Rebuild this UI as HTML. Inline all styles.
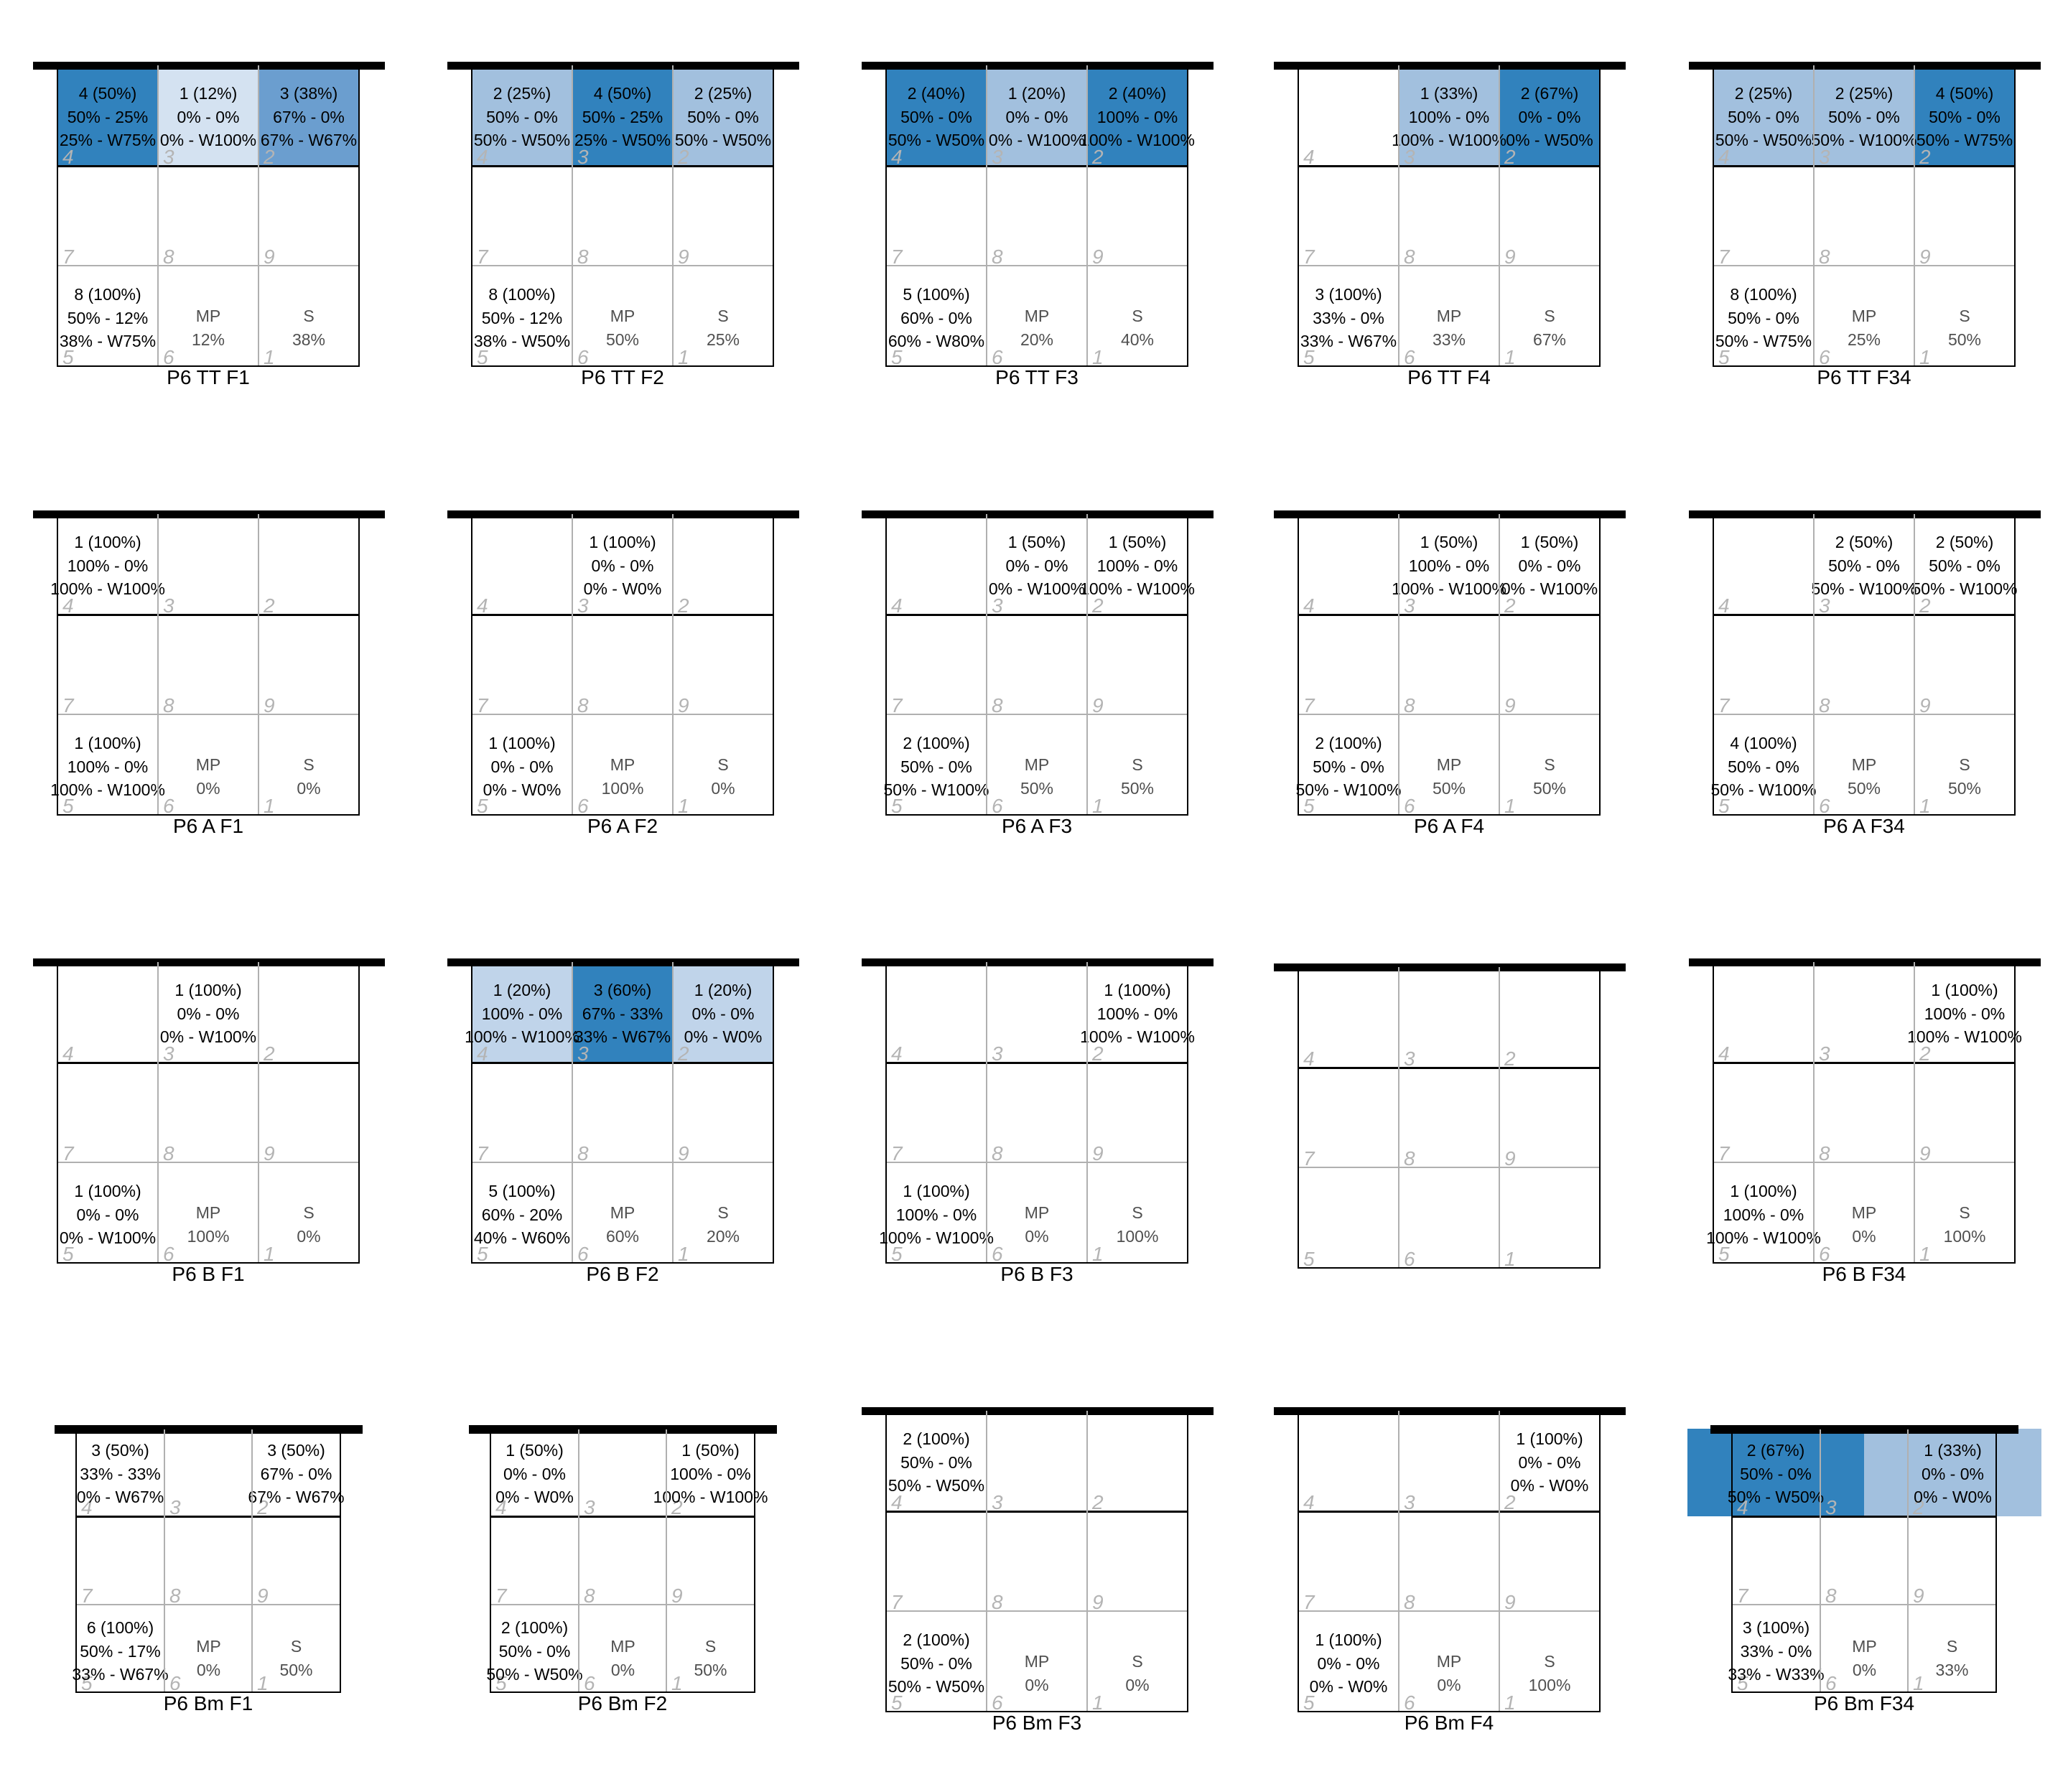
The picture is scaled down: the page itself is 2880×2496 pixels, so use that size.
<!DOCTYPE html>
<html><head><meta charset="utf-8">
<style>
*{margin:0;padding:0;box-sizing:border-box}
body{width:2880px;height:2496px;background:#fff;position:relative;overflow:hidden;font-family:"Liberation Sans",Arial,sans-serif}
.p{position:absolute;width:420px;height:414px}
.p.s{width:368px;height:361px}
.bar{position:absolute;left:-34px;width:490px;top:-10px;height:11px;background:#000;z-index:5}
.s .bar{left:-30px;width:429px;top:-11px;height:12px}
.c{position:absolute;width:140px;overflow:visible}
.s .c{width:123px}
.k1{left:0}.k2{left:140px}.k3{left:280px}
.s .k2{left:123px}.s .k3{left:245px}
.r1{top:0;height:135px}.r2{top:135px;height:139px}.r3{top:274px;height:140px}
.s .r1{height:116px}.s .r2{top:116px;height:123px}.s .r3{top:239px;height:122px}
.t{position:absolute;left:-40px;right:-40px;text-align:center;white-space:nowrap;font-size:23px;line-height:32.5px;color:#000;z-index:3}
.r1 .t{top:18px}.r3 .t{top:24px}.r3 .t.m{top:54px;color:#505050}
.s .r1 .t{top:8px}.s .r3 .t{top:16px}.s .r3 .t.m{top:42px}
.c i{position:absolute;left:7px;bottom:-2px;font-size:28px;line-height:28px;color:#b4b4b4;font-style:italic;z-index:2}
.vl{position:absolute;top:-5px;bottom:0;width:2px;background:#b0b0b0;z-index:6}
.v1{left:139px}.v2{left:279px}
.s .v1{left:122px}.s .v2{left:244px}
.hl{position:absolute;left:0;right:0;height:2px;z-index:4}
.h1{top:134px;background:#000;height:3px}.h2{top:273px;background:#b0b0b0}
.s .h1{top:115px}.s .h2{top:238px}
.bx{position:absolute;left:-1px;top:-1px;right:-1px;bottom:-1px;border:2.5px solid #000;border-top:none;z-index:7}
.ti{position:absolute;left:-60px;right:-60px;top:100%;text-align:center;font-size:28px;line-height:32px;color:#000}
.D{background:#3182bd}.L{background:#a2c0de}.M{background:#6b9ecf}.V{background:#d4e2f1}.B{background:#c0d4ea}
</style></head><body>

<!-- Row 1 TT -->
<div class="p" style="left:80px;top:96px"><div class="bar"></div>
<div class="c k1 r1 D"><div class="t">4 (50%)<br>50% - 25%<br>25% - W75%</div><i>4</i></div>
<div class="c k2 r1 V"><div class="t">1 (12%)<br>0% - 0%<br>0% - W100%</div><i>3</i></div>
<div class="c k3 r1 M"><div class="t">3 (38%)<br>67% - 0%<br>67% - W67%</div><i>2</i></div>
<div class="c k1 r2"><i>7</i></div><div class="c k2 r2"><i>8</i></div><div class="c k3 r2"><i>9</i></div>
<div class="c k1 r3"><div class="t">8 (100%)<br>50% - 12%<br>38% - W75%</div><i>5</i></div>
<div class="c k2 r3"><div class="t m">MP<br>12%</div><i>6</i></div>
<div class="c k3 r3"><div class="t m">S<br>38%</div><i>1</i></div>
<div class="vl v1"></div><div class="vl v2"></div><div class="hl h1"></div><div class="hl h2"></div><div class="bx"></div>
<div class="ti">P6 TT F1</div></div>

<div class="p" style="left:657px;top:96px"><div class="bar"></div>
<div class="c k1 r1 L"><div class="t">2 (25%)<br>50% - 0%<br>50% - W50%</div><i>4</i></div>
<div class="c k2 r1 D"><div class="t">4 (50%)<br>50% - 25%<br>25% - W50%</div><i>3</i></div>
<div class="c k3 r1 L"><div class="t">2 (25%)<br>50% - 0%<br>50% - W50%</div><i>2</i></div>
<div class="c k1 r2"><i>7</i></div><div class="c k2 r2"><i>8</i></div><div class="c k3 r2"><i>9</i></div>
<div class="c k1 r3"><div class="t">8 (100%)<br>50% - 12%<br>38% - W50%</div><i>5</i></div>
<div class="c k2 r3"><div class="t m">MP<br>50%</div><i>6</i></div>
<div class="c k3 r3"><div class="t m">S<br>25%</div><i>1</i></div>
<div class="vl v1"></div><div class="vl v2"></div><div class="hl h1"></div><div class="hl h2"></div><div class="bx"></div>
<div class="ti">P6 TT F2</div></div>

<div class="p" style="left:1234px;top:96px"><div class="bar"></div>
<div class="c k1 r1 D"><div class="t">2 (40%)<br>50% - 0%<br>50% - W50%</div><i>4</i></div>
<div class="c k2 r1 L"><div class="t">1 (20%)<br>0% - 0%<br>0% - W100%</div><i>3</i></div>
<div class="c k3 r1 D"><div class="t">2 (40%)<br>100% - 0%<br>100% - W100%</div><i>2</i></div>
<div class="c k1 r2"><i>7</i></div><div class="c k2 r2"><i>8</i></div><div class="c k3 r2"><i>9</i></div>
<div class="c k1 r3"><div class="t">5 (100%)<br>60% - 0%<br>60% - W80%</div><i>5</i></div>
<div class="c k2 r3"><div class="t m">MP<br>20%</div><i>6</i></div>
<div class="c k3 r3"><div class="t m">S<br>40%</div><i>1</i></div>
<div class="vl v1"></div><div class="vl v2"></div><div class="hl h1"></div><div class="hl h2"></div><div class="bx"></div>
<div class="ti">P6 TT F3</div></div>

<div class="p" style="left:1808px;top:96px"><div class="bar"></div>
<div class="c k1 r1"><i>4</i></div>
<div class="c k2 r1 L"><div class="t">1 (33%)<br>100% - 0%<br>100% - W100%</div><i>3</i></div>
<div class="c k3 r1 D"><div class="t">2 (67%)<br>0% - 0%<br>0% - W50%</div><i>2</i></div>
<div class="c k1 r2"><i>7</i></div><div class="c k2 r2"><i>8</i></div><div class="c k3 r2"><i>9</i></div>
<div class="c k1 r3"><div class="t">3 (100%)<br>33% - 0%<br>33% - W67%</div><i>5</i></div>
<div class="c k2 r3"><div class="t m">MP<br>33%</div><i>6</i></div>
<div class="c k3 r3"><div class="t m">S<br>67%</div><i>1</i></div>
<div class="vl v1"></div><div class="vl v2"></div><div class="hl h1"></div><div class="hl h2"></div><div class="bx"></div>
<div class="ti">P6 TT F4</div></div>

<div class="p" style="left:2386px;top:96px"><div class="bar"></div>
<div class="c k1 r1 L"><div class="t">2 (25%)<br>50% - 0%<br>50% - W50%</div><i>4</i></div>
<div class="c k2 r1 L"><div class="t">2 (25%)<br>50% - 0%<br>50% - W100%</div><i>3</i></div>
<div class="c k3 r1 D"><div class="t">4 (50%)<br>50% - 0%<br>50% - W75%</div><i>2</i></div>
<div class="c k1 r2"><i>7</i></div><div class="c k2 r2"><i>8</i></div><div class="c k3 r2"><i>9</i></div>
<div class="c k1 r3"><div class="t">8 (100%)<br>50% - 0%<br>50% - W75%</div><i>5</i></div>
<div class="c k2 r3"><div class="t m">MP<br>25%</div><i>6</i></div>
<div class="c k3 r3"><div class="t m">S<br>50%</div><i>1</i></div>
<div class="vl v1"></div><div class="vl v2"></div><div class="hl h1"></div><div class="hl h2"></div><div class="bx"></div>
<div class="ti">P6 TT F34</div></div>

<!-- Row 2 A -->
<div class="p" style="left:80px;top:721px"><div class="bar"></div>
<div class="c k1 r1"><div class="t">1 (100%)<br>100% - 0%<br>100% - W100%</div><i>4</i></div>
<div class="c k2 r1"><i>3</i></div><div class="c k3 r1"><i>2</i></div>
<div class="c k1 r2"><i>7</i></div><div class="c k2 r2"><i>8</i></div><div class="c k3 r2"><i>9</i></div>
<div class="c k1 r3"><div class="t">1 (100%)<br>100% - 0%<br>100% - W100%</div><i>5</i></div>
<div class="c k2 r3"><div class="t m">MP<br>0%</div><i>6</i></div>
<div class="c k3 r3"><div class="t m">S<br>0%</div><i>1</i></div>
<div class="vl v1"></div><div class="vl v2"></div><div class="hl h1"></div><div class="hl h2"></div><div class="bx"></div>
<div class="ti">P6 A F1</div></div>

<div class="p" style="left:657px;top:721px"><div class="bar"></div>
<div class="c k1 r1"><i>4</i></div>
<div class="c k2 r1"><div class="t">1 (100%)<br>0% - 0%<br>0% - W0%</div><i>3</i></div>
<div class="c k3 r1"><i>2</i></div>
<div class="c k1 r2"><i>7</i></div><div class="c k2 r2"><i>8</i></div><div class="c k3 r2"><i>9</i></div>
<div class="c k1 r3"><div class="t">1 (100%)<br>0% - 0%<br>0% - W0%</div><i>5</i></div>
<div class="c k2 r3"><div class="t m">MP<br>100%</div><i>6</i></div>
<div class="c k3 r3"><div class="t m">S<br>0%</div><i>1</i></div>
<div class="vl v1"></div><div class="vl v2"></div><div class="hl h1"></div><div class="hl h2"></div><div class="bx"></div>
<div class="ti">P6 A F2</div></div>

<div class="p" style="left:1234px;top:721px"><div class="bar"></div>
<div class="c k1 r1"><i>4</i></div>
<div class="c k2 r1"><div class="t">1 (50%)<br>0% - 0%<br>0% - W100%</div><i>3</i></div>
<div class="c k3 r1"><div class="t">1 (50%)<br>100% - 0%<br>100% - W100%</div><i>2</i></div>
<div class="c k1 r2"><i>7</i></div><div class="c k2 r2"><i>8</i></div><div class="c k3 r2"><i>9</i></div>
<div class="c k1 r3"><div class="t">2 (100%)<br>50% - 0%<br>50% - W100%</div><i>5</i></div>
<div class="c k2 r3"><div class="t m">MP<br>50%</div><i>6</i></div>
<div class="c k3 r3"><div class="t m">S<br>50%</div><i>1</i></div>
<div class="vl v1"></div><div class="vl v2"></div><div class="hl h1"></div><div class="hl h2"></div><div class="bx"></div>
<div class="ti">P6 A F3</div></div>

<div class="p" style="left:1808px;top:721px"><div class="bar"></div>
<div class="c k1 r1"><i>4</i></div>
<div class="c k2 r1"><div class="t">1 (50%)<br>100% - 0%<br>100% - W100%</div><i>3</i></div>
<div class="c k3 r1"><div class="t">1 (50%)<br>0% - 0%<br>0% - W100%</div><i>2</i></div>
<div class="c k1 r2"><i>7</i></div><div class="c k2 r2"><i>8</i></div><div class="c k3 r2"><i>9</i></div>
<div class="c k1 r3"><div class="t">2 (100%)<br>50% - 0%<br>50% - W100%</div><i>5</i></div>
<div class="c k2 r3"><div class="t m">MP<br>50%</div><i>6</i></div>
<div class="c k3 r3"><div class="t m">S<br>50%</div><i>1</i></div>
<div class="vl v1"></div><div class="vl v2"></div><div class="hl h1"></div><div class="hl h2"></div><div class="bx"></div>
<div class="ti">P6 A F4</div></div>

<div class="p" style="left:2386px;top:721px"><div class="bar"></div>
<div class="c k1 r1"><i>4</i></div>
<div class="c k2 r1"><div class="t">2 (50%)<br>50% - 0%<br>50% - W100%</div><i>3</i></div>
<div class="c k3 r1"><div class="t">2 (50%)<br>50% - 0%<br>50% - W100%</div><i>2</i></div>
<div class="c k1 r2"><i>7</i></div><div class="c k2 r2"><i>8</i></div><div class="c k3 r2"><i>9</i></div>
<div class="c k1 r3"><div class="t">4 (100%)<br>50% - 0%<br>50% - W100%</div><i>5</i></div>
<div class="c k2 r3"><div class="t m">MP<br>50%</div><i>6</i></div>
<div class="c k3 r3"><div class="t m">S<br>50%</div><i>1</i></div>
<div class="vl v1"></div><div class="vl v2"></div><div class="hl h1"></div><div class="hl h2"></div><div class="bx"></div>
<div class="ti">P6 A F34</div></div>

<!-- Row 3 B -->
<div class="p" style="left:80px;top:1345px"><div class="bar"></div>
<div class="c k1 r1"><i>4</i></div>
<div class="c k2 r1"><div class="t">1 (100%)<br>0% - 0%<br>0% - W100%</div><i>3</i></div>
<div class="c k3 r1"><i>2</i></div>
<div class="c k1 r2"><i>7</i></div><div class="c k2 r2"><i>8</i></div><div class="c k3 r2"><i>9</i></div>
<div class="c k1 r3"><div class="t">1 (100%)<br>0% - 0%<br>0% - W100%</div><i>5</i></div>
<div class="c k2 r3"><div class="t m">MP<br>100%</div><i>6</i></div>
<div class="c k3 r3"><div class="t m">S<br>0%</div><i>1</i></div>
<div class="vl v1"></div><div class="vl v2"></div><div class="hl h1"></div><div class="hl h2"></div><div class="bx"></div>
<div class="ti">P6 B F1</div></div>

<div class="p" style="left:657px;top:1345px"><div class="bar"></div>
<div class="c k1 r1 B"><div class="t">1 (20%)<br>100% - 0%<br>100% - W100%</div><i>4</i></div>
<div class="c k2 r1 D"><div class="t">3 (60%)<br>67% - 33%<br>33% - W67%</div><i>3</i></div>
<div class="c k3 r1 B"><div class="t">1 (20%)<br>0% - 0%<br>0% - W0%</div><i>2</i></div>
<div class="c k1 r2"><i>7</i></div><div class="c k2 r2"><i>8</i></div><div class="c k3 r2"><i>9</i></div>
<div class="c k1 r3"><div class="t">5 (100%)<br>60% - 20%<br>40% - W60%</div><i>5</i></div>
<div class="c k2 r3"><div class="t m">MP<br>60%</div><i>6</i></div>
<div class="c k3 r3"><div class="t m">S<br>20%</div><i>1</i></div>
<div class="vl v1"></div><div class="vl v2"></div><div class="hl h1"></div><div class="hl h2"></div><div class="bx"></div>
<div class="ti">P6 B F2</div></div>

<div class="p" style="left:1234px;top:1345px"><div class="bar"></div>
<div class="c k1 r1"><i>4</i></div><div class="c k2 r1"><i>3</i></div>
<div class="c k3 r1"><div class="t">1 (100%)<br>100% - 0%<br>100% - W100%</div><i>2</i></div>
<div class="c k1 r2"><i>7</i></div><div class="c k2 r2"><i>8</i></div><div class="c k3 r2"><i>9</i></div>
<div class="c k1 r3"><div class="t">1 (100%)<br>100% - 0%<br>100% - W100%</div><i>5</i></div>
<div class="c k2 r3"><div class="t m">MP<br>0%</div><i>6</i></div>
<div class="c k3 r3"><div class="t m">S<br>100%</div><i>1</i></div>
<div class="vl v1"></div><div class="vl v2"></div><div class="hl h1"></div><div class="hl h2"></div><div class="bx"></div>
<div class="ti">P6 B F3</div></div>

<div class="p" style="left:1808px;top:1352px"><div class="bar"></div>
<div class="c k1 r1"><i>4</i></div><div class="c k2 r1"><i>3</i></div><div class="c k3 r1"><i>2</i></div>
<div class="c k1 r2"><i>7</i></div><div class="c k2 r2"><i>8</i></div><div class="c k3 r2"><i>9</i></div>
<div class="c k1 r3"><i>5</i></div><div class="c k2 r3"><i>6</i></div><div class="c k3 r3"><i>1</i></div>
<div class="vl v1"></div><div class="vl v2"></div><div class="hl h1"></div><div class="hl h2"></div><div class="bx"></div>
</div>

<div class="p" style="left:2386px;top:1345px"><div class="bar"></div>
<div class="c k1 r1"><i>4</i></div><div class="c k2 r1"><i>3</i></div>
<div class="c k3 r1"><div class="t">1 (100%)<br>100% - 0%<br>100% - W100%</div><i>2</i></div>
<div class="c k1 r2"><i>7</i></div><div class="c k2 r2"><i>8</i></div><div class="c k3 r2"><i>9</i></div>
<div class="c k1 r3"><div class="t">1 (100%)<br>100% - 0%<br>100% - W100%</div><i>5</i></div>
<div class="c k2 r3"><div class="t m">MP<br>0%</div><i>6</i></div>
<div class="c k3 r3"><div class="t m">S<br>100%</div><i>1</i></div>
<div class="vl v1"></div><div class="vl v2"></div><div class="hl h1"></div><div class="hl h2"></div><div class="bx"></div>
<div class="ti">P6 B F34</div></div>

<!-- Row 4 Bm -->
<div class="p s" style="left:106px;top:1996px"><div class="bar"></div>
<div class="c k1 r1"><div class="t">3 (50%)<br>33% - 33%<br>0% - W67%</div><i>4</i></div>
<div class="c k2 r1"><i>3</i></div>
<div class="c k3 r1"><div class="t">3 (50%)<br>67% - 0%<br>67% - W67%</div><i>2</i></div>
<div class="c k1 r2"><i>7</i></div><div class="c k2 r2"><i>8</i></div><div class="c k3 r2"><i>9</i></div>
<div class="c k1 r3"><div class="t">6 (100%)<br>50% - 17%<br>33% - W67%</div><i>5</i></div>
<div class="c k2 r3"><div class="t m">MP<br>0%</div><i>6</i></div>
<div class="c k3 r3"><div class="t m">S<br>50%</div><i>1</i></div>
<div class="vl v1"></div><div class="vl v2"></div><div class="hl h1"></div><div class="hl h2"></div><div class="bx"></div>
<div class="ti">P6 Bm F1</div></div>

<div class="p s" style="left:683px;top:1996px"><div class="bar"></div>
<div class="c k1 r1"><div class="t">1 (50%)<br>0% - 0%<br>0% - W0%</div><i>4</i></div>
<div class="c k2 r1"><i>3</i></div>
<div class="c k3 r1"><div class="t">1 (50%)<br>100% - 0%<br>100% - W100%</div><i>2</i></div>
<div class="c k1 r2"><i>7</i></div><div class="c k2 r2"><i>8</i></div><div class="c k3 r2"><i>9</i></div>
<div class="c k1 r3"><div class="t">2 (100%)<br>50% - 0%<br>50% - W50%</div><i>5</i></div>
<div class="c k2 r3"><div class="t m">MP<br>0%</div><i>6</i></div>
<div class="c k3 r3"><div class="t m">S<br>50%</div><i>1</i></div>
<div class="vl v1"></div><div class="vl v2"></div><div class="hl h1"></div><div class="hl h2"></div><div class="bx"></div>
<div class="ti">P6 Bm F2</div></div>

<div class="p" style="left:1234px;top:1970px"><div class="bar"></div>
<div class="c k1 r1"><div class="t">2 (100%)<br>50% - 0%<br>50% - W50%</div><i>4</i></div>
<div class="c k2 r1"><i>3</i></div><div class="c k3 r1"><i>2</i></div>
<div class="c k1 r2"><i>7</i></div><div class="c k2 r2"><i>8</i></div><div class="c k3 r2"><i>9</i></div>
<div class="c k1 r3"><div class="t">2 (100%)<br>50% - 0%<br>50% - W50%</div><i>5</i></div>
<div class="c k2 r3"><div class="t m">MP<br>0%</div><i>6</i></div>
<div class="c k3 r3"><div class="t m">S<br>0%</div><i>1</i></div>
<div class="vl v1"></div><div class="vl v2"></div><div class="hl h1"></div><div class="hl h2"></div><div class="bx"></div>
<div class="ti">P6 Bm F3</div></div>

<div class="p" style="left:1808px;top:1970px"><div class="bar"></div>
<div class="c k1 r1"><i>4</i></div><div class="c k2 r1"><i>3</i></div>
<div class="c k3 r1"><div class="t">1 (100%)<br>0% - 0%<br>0% - W0%</div><i>2</i></div>
<div class="c k1 r2"><i>7</i></div><div class="c k2 r2"><i>8</i></div><div class="c k3 r2"><i>9</i></div>
<div class="c k1 r3"><div class="t">1 (100%)<br>0% - 0%<br>0% - W0%</div><i>5</i></div>
<div class="c k2 r3"><div class="t m">MP<br>0%</div><i>6</i></div>
<div class="c k3 r3"><div class="t m">S<br>100%</div><i>1</i></div>
<div class="vl v1"></div><div class="vl v2"></div><div class="hl h1"></div><div class="hl h2"></div><div class="bx"></div>
<div class="ti">P6 Bm F4</div></div>

<div class="p s" style="left:2412px;top:1996px"><div class="bar"></div>
<div class="c r1 D" style="left:-62px;top:-6px;width:246px;height:122px"><div class="t" style="top:14px">2 (67%)<br>50% - 0%<br>50% - W50%</div></div>
<div class="c r1 L" style="left:184px;top:-6px;width:247px;height:122px"><div class="t" style="top:14px">1 (33%)<br>0% - 0%<br>0% - W0%</div></div>
<div class="c k1 r1"><i>4</i></div><div class="c k2 r1"><i>3</i></div><div class="c k3 r1"><i>2</i></div>
<div class="c k1 r2"><i>7</i></div><div class="c k2 r2"><i>8</i></div><div class="c k3 r2"><i>9</i></div>
<div class="c k1 r3"><div class="t">3 (100%)<br>33% - 0%<br>33% - W33%</div><i>5</i></div>
<div class="c k2 r3"><div class="t m">MP<br>0%</div><i>6</i></div>
<div class="c k3 r3"><div class="t m">S<br>33%</div><i>1</i></div>
<div class="vl v1"></div><div class="vl v2"></div><div class="hl h1"></div><div class="hl h2"></div><div class="bx"></div>
<div class="ti">P6 Bm F34</div></div>

</body></html>
